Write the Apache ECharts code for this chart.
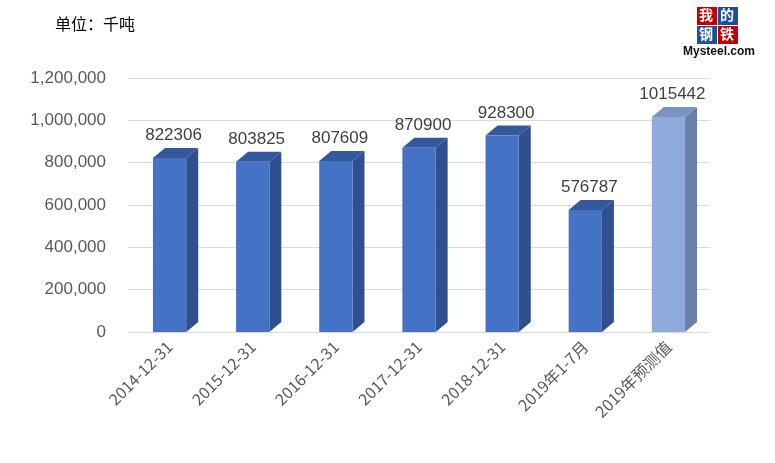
<!DOCTYPE html>
<html><head><meta charset="utf-8">
<script src="https://cdn.jsdelivr.net/npm/echarts@6/dist/echarts.min.js"></script>
<style>body{margin:0;background:#fff}#c{width:775px;height:463px}</style>
</head><body><div id="c"></div>
<script>
const categories = ['2014-12-31', '2015-12-31', '2016-12-31', '2017-12-31', '2018-12-31', '2019年1-7月', '2019年预测值'];
const values = [822306, 803825, 807609, 870900, 928300, 576787, 1015442];
const yTicks = [0, 1200000, 200000]; // min, max, step

const chart = echarts.init(document.getElementById('c'));

// 3d-looking bar: front, side, top faces
function renderBar(params, api) {
    const idx = api.value(0);
    const v = api.value(1);
    const top = api.coord([idx, v]);
    const base = api.coord([idx, 0]);
    const w = api.size([1, 0])[0] * 0.4;
    const dx = 12, dy = -10;
    const x0 = top[0] - w / 2, x1 = top[0] + w / 2;
    const last = idx === categories.length - 1;
    const front = last ? '#8FAADC' : '#4472C4';
    const side = last ? '#6A7FA8' : '#2F4F8F';
    const topc = last ? '#7C93C0' : '#34589C';
    return {
        type: 'group',
        children: [
            { type: 'polygon', shape: { points: [[x1, top[1]], [x1 + dx, top[1] + dy], [x1 + dx, base[1] + dy], [x1, base[1]]] }, style: { fill: side } },
            { type: 'polygon', shape: { points: [[x0, top[1]], [x0 + dx, top[1] + dy], [x1 + dx, top[1] + dy], [x1, top[1]]] }, style: { fill: topc } },
            { type: 'rect', shape: { x: x0, y: top[1], width: w, height: base[1] - top[1] }, style: { fill: front } },
            { type: 'text', style: { text: String(v), x: top[0] + 4, y: top[1] + dy - 4, align: 'center', verticalAlign: 'bottom', fill: '#404040', font: '17px "Liberation Sans", Arial' } }
        ]
    };
}

chart.setOption({
    animation: false,
    graphic: [
        { type: 'text', left: 55, top: 16, style: { text: '单位：千吨', fill: '#000', font: '16px "Noto Sans CJK SC"' } },
        { type: 'rect', shape: { x: 697, y: 7, width: 20, height: 18 }, style: { fill: '#C00000' } },
        { type: 'rect', shape: { x: 718, y: 7, width: 20, height: 18 }, style: { fill: '#1F4E9A' } },
        { type: 'rect', shape: { x: 697, y: 26, width: 20, height: 18 }, style: { fill: '#1F4E9A' } },
        { type: 'rect', shape: { x: 718, y: 26, width: 20, height: 18 }, style: { fill: '#C00000' } },
        { type: 'text', left: 699, top: 8, style: { text: '我', fill: '#fff', font: 'bold 14px "Noto Sans CJK SC"' } },
        { type: 'text', left: 720, top: 8, style: { text: '的', fill: '#fff', font: 'bold 14px "Noto Sans CJK SC"' } },
        { type: 'text', left: 699, top: 27, style: { text: '钢', fill: '#fff', font: 'bold 14px "Noto Sans CJK SC"' } },
        { type: 'text', left: 720, top: 27, style: { text: '铁', fill: '#fff', font: 'bold 14px "Noto Sans CJK SC"' } },
        { type: 'text', left: 683, top: 46, style: { text: 'Mysteel.com', fill: '#111', font: 'bold 12px "Liberation Sans"' } }
    ],
    grid: { left: 128, right: 65, top: 78, bottom: 131 },
    xAxis: {
        type: 'category', data: categories,
        axisLine: { show: false }, axisTick: { show: false },
        axisLabel: { rotate: 45, color: '#595959', fontSize: 16, fontFamily: 'Noto Sans CJK SC', interval: 0, margin: 12 }
    },
    yAxis: {
        type: 'value', min: yTicks[0], max: yTicks[1], interval: yTicks[2],
        axisLine: { show: false }, axisTick: { show: false },
        axisLabel: { color: '#595959', fontSize: 17, fontFamily: 'Liberation Sans', margin: 22 },
        splitLine: { lineStyle: { color: '#D9D9D9' } }
    },
    series: [{
        type: 'custom',
        renderItem: renderBar,
        data: values.map((v, i) => [i, v]),
        encode: { x: 0, y: 1 }
    }]
});
</script></body></html>
